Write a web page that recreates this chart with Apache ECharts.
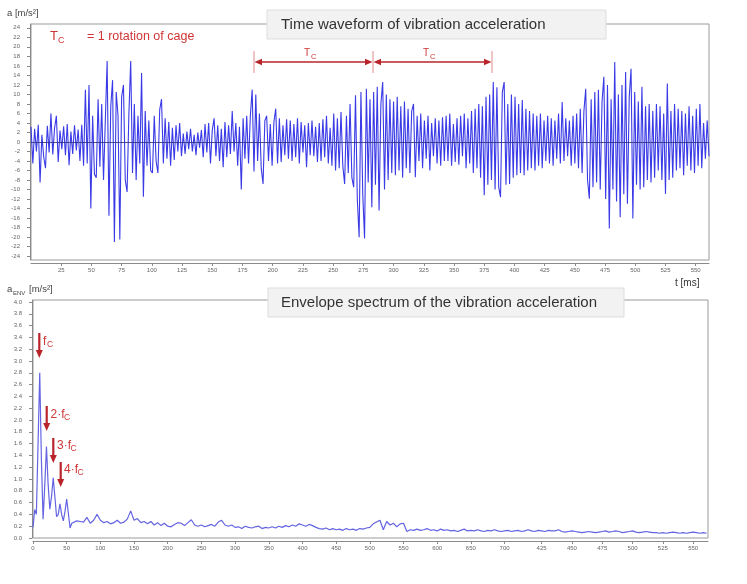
<!DOCTYPE html>
<html>
<head>
<meta charset="utf-8">
<script src="https://cdn.jsdelivr.net/npm/echarts/dist/echarts.min.js"></script>
<style>
html,body{margin:0;padding:0;background:#fff;}
#c{width:747px;height:584px;}
</style>
</head>
<body>
<div id="c"></div>
<script>
// ---------- DATA ----------
// Time waveform of vibration acceleration, one sample every 1.5 ms starting at 0 ms  [m/s²]
const timeStepMs = 1.5;
const accel = [
 3.2, -4.5, 2.8, -2.0, 3.6, -8.5, 1.5, -3.1, -5.5, 3.4,
 -2.2, 6.0, -2.6, 2.9, 5.5, -4.2, 2.4, -1.5, 3.3, -2.8,
 3.8, -4.9, 2.2, -2.5, 3.5, -1.8, 2.6, -4.0, 3.6, -5.0,
 11.0, -4.5, 12.0, -14.0, 5.5, -6.8, -7.5, 9.0, -5.2, 8.0,
 -8.0, 4.5, 17.0, -15.5, 7.5, 13.0, -21.0, 10.5, 5.5, -20.5,
 9.5, 12.0, -8.0, -10.5, 6.0, 17.0, -6.5, 8.0, -8.0, 5.5,
 -4.5, 14.5, -11.5, 6.5, -5.0, 4.5, -6.0, -6.5, 5.5, -4.0,
 -6.5, 6.8, 9.0, -4.5, 5.0, -3.5, 4.2, -5.0, 3.0, -3.8,
 3.5, -2.0, 4.0, -3.0, 1.8, -2.5, 2.2, -1.5, 2.8, -2.0,
 1.5, -2.8, 2.0, -1.2, 2.5, -3.2, 3.8, -2.2, 4.0, -4.5,
 2.5, 5.0, -3.0, 3.5, -4.0, 2.8, -5.3, 4.2, -3.2, 3.5,
 -2.5, 6.5, -2.0, 4.0, -5.0, 3.2, -10.0, 5.0, -3.5, 5.5,
 -4.5, 5.5, 11.0, -6.2, 10.0, -4.0, 6.0, -5.5, -8.8, 4.5,
 5.5, -4.0, 3.8, -5.0, 4.2, 7.0, -4.5, 5.0, -4.2, 3.5,
 -2.8, 4.8, -3.5, 4.5, -4.0, 3.8, -3.2, 5.0, -4.5, 4.2,
 -2.2, 3.5, -5.3, 4.0, -2.8, 4.5, -3.0, 3.2, -4.2, 4.0,
 -4.0, 4.8, -3.2, 5.5, -4.5, 3.0, -5.0, 6.0, -6.0, 5.0,
 -5.5, 6.3, -5.0, -8.8, 5.5, -6.5, 8.0, -7.5, -9.5, 9.8,
 -12.0, -20.0, 10.5, -11.0, -20.3, 11.2, -8.5, 9.0, -13.7, 10.5,
 -9.0, 11.6, -14.4, 8.0, 12.6, -10.0, 10.0, -8.0, 9.0, -6.5,
 8.5, -7.0, 9.5, -6.0, 7.5, -7.5, 8.5, -5.5, 7.0, -6.5,
 6.5, 8.0, -7.4, 5.5, -4.0, 6.0, -5.5, 4.5, -3.5, 5.5,
 -6.0, 4.0, -3.0, 5.0, -4.5, 4.5, -5.0, 5.2, -4.0, 5.5,
 -4.0, 6.0, -5.0, 3.8, -4.2, 5.0, -4.8, 5.5, -3.0, 6.0,
 -5.5, 5.0, -4.5, 6.5, -6.5, 7.0, -5.5, 8.0, -7.5, 7.5,
 -11.2, 9.5, -9.0, 10.0, -8.0, 12.6, -10.0, 11.5, -9.5, -11.6,
 10.5, 12.6, -9.0, 8.0, -8.8, 10.0, -7.5, 9.5, -7.0, 8.0,
 -6.5, 8.8, -7.0, 7.0, -6.0, 6.5, -5.5, 6.0, -6.0, 5.5,
 -5.0, 6.0, -5.5, 4.5, -4.0, 5.5, -4.5, 5.0, -5.0, 4.5,
 -3.5, 6.0, -4.5, 8.4, -4.0, 5.0, -3.0, 4.5, -5.0, 5.5,
 -4.5, 6.0, -5.5, 7.0, -6.5, 6.5, 11.2, -8.0, -11.9, 9.0,
 -9.5, 10.5, -8.5, 11.0, -10.0, 8.5, 13.7, -12.0, 12.0, -18.2,
 9.0, -10.0, 16.8, -12.5, 10.0, -15.8, 12.0, -11.0, 14.7, -13.0,
 9.5, 15.4, -16.1, 10.5, -9.0, 8.5, -10.0, 11.6, -9.5, 7.5,
 -8.0, 8.0, -8.5, 6.5, -7.5, 8.0, -6.0, 7.5, -8.0, 6.0,
 -10.9, 12.3, -8.0, 6.5, -7.5, 8.0, -6.0, 7.0, -5.5, 6.5,
 -7.0, 6.0, -5.0, 7.5, -6.0, 5.5, -6.5, 7.0, -5.0, 8.0,
 -5.5, 4.0, -3.5, 4.5, -3.0
];

// Envelope spectrum: low part (0 .. 57.5, step 2.5) and high part (60 .. 1000, step 5)
const envLowStart = 0, envLowStep = 2.5;
const envLow = [0.18, 0.48, 0.40, 1.60, 2.80, 1.30, 0.32, 0.90, 1.55, 0.90,
                0.49, 0.70, 1.02, 0.70, 0.36, 0.40, 0.58, 0.40, 0.29, 0.45,
                0.66, 0.42, 0.17, 0.25];
const envHighStart = 60, envHighStep = 5;
const envHigh = [
 0.27, 0.29, 0.28, 0.27, 0.35, 0.25, 0.30, 0.40, 0.30, 0.26,
 0.28, 0.24, 0.26, 0.30, 0.25, 0.27, 0.32, 0.46, 0.30, 0.33,
 0.26, 0.28, 0.24, 0.28, 0.22, 0.26, 0.21, 0.25, 0.20, 0.19,
 0.23, 0.26, 0.25, 0.21, 0.26, 0.31, 0.22, 0.20, 0.22, 0.19,
 0.21, 0.23, 0.20, 0.27, 0.30, 0.22, 0.20, 0.22, 0.18, 0.19,
 0.16, 0.20, 0.18, 0.17, 0.19, 0.20, 0.16, 0.18, 0.17, 0.19,
 0.17, 0.20, 0.18, 0.21, 0.19, 0.22, 0.20, 0.24, 0.22, 0.20,
 0.23, 0.21, 0.18, 0.16, 0.15, 0.17, 0.14, 0.16, 0.14, 0.15,
 0.13, 0.16, 0.14, 0.15, 0.13, 0.16, 0.15, 0.17, 0.18, 0.24,
 0.27, 0.30, 0.14, 0.28, 0.22, 0.25, 0.19, 0.24, 0.25, 0.11,
 0.14, 0.13, 0.15, 0.13, 0.14, 0.16, 0.13, 0.14, 0.12, 0.15,
 0.13, 0.14, 0.12, 0.13, 0.11, 0.13, 0.15, 0.12, 0.13, 0.12,
 0.14, 0.12, 0.11, 0.13, 0.12, 0.14, 0.12, 0.11, 0.12, 0.13,
 0.11, 0.12, 0.13, 0.11, 0.12, 0.14, 0.12, 0.11, 0.13, 0.12,
 0.11, 0.13, 0.12, 0.12, 0.14, 0.11, 0.10, 0.11, 0.12, 0.11,
 0.10, 0.09, 0.10, 0.11, 0.10, 0.09, 0.10, 0.11, 0.12, 0.10,
 0.11, 0.12, 0.11, 0.09, 0.10, 0.11, 0.12, 0.10, 0.09, 0.10,
 0.11, 0.10, 0.09, 0.09, 0.08, 0.09, 0.08, 0.09, 0.10, 0.09,
 0.08, 0.09, 0.08, 0.09, 0.10, 0.09, 0.08, 0.09, 0.08
];

// Tick labels
const timeTicks = [25,50,75,100,125,150,175,200,225,250,275,300,325,350,375,400,425,450,475,500,525,550];
const accelTicks = [-24,-22,-20,-18,-16,-14,-12,-10,-8,-6,-4,-2,0,2,4,6,8,10,12,14,16,18,20,22,24];
const envTicks = [0,0.2,0.4,0.6,0.8,1.0,1.2,1.4,1.6,1.8,2.0,2.2,2.4,2.6,2.8,3.0,3.2,3.4,3.6,3.8,4.0];
const freqTickValues = [0,50,100,150,200,250,300,350,400,450,500,550,600,650,700,755,800,845,890,935,980];
const freqTickLabels = ['0','50','100','150','200','250','300','350','400','450','500','550','600','650','700','425','450','475','500','525','550'];

// ---------- BUILD ----------
const accelData = accel.map((v, i) => [i * timeStepMs, v]);
const envData = envLow.map((v, i) => [envLowStart + i * envLowStep, v])
  .concat(envHigh.map((v, i) => [envHighStart + i * envHighStep, v]));

const RED = '#cf3535';
const DARKRED = '#b8242a';
const FONT = 'Liberation Sans, Arial, sans-serif';

function txt(x, y, s, size, color) {
  return {
    type: 'text', z: 100, x: x, y: y,
    style: { text: s, fontSize: size, fill: color, fontFamily: FONT, verticalAlign: 'middle' }
  };
}
function line(x1, y1, x2, y2, color, w) {
  return { type: 'line', z: 100, shape: { x1, y1, x2, y2 }, style: { stroke: color, lineWidth: w } };
}
function tri(points, color) {
  return { type: 'polygon', z: 100, shape: { points }, style: { fill: color } };
}

const graphics = [
  { type: 'rect', z: 90, shape: { x: 267, y: 10, width: 339, height: 29 }, style: { fill: '#f2f2f2', stroke: '#dddddd', lineWidth: 1 } },
  txt(281, 24.5, 'Time waveform of vibration acceleration', 15, '#333'),
  { type: 'rect', z: 90, shape: { x: 268, y: 288, width: 356, height: 29 }, style: { fill: '#f2f2f2', stroke: '#dddddd', lineWidth: 1 } },
  txt(281, 302.5, 'Envelope spectrum of the vibration acceleration', 15, '#333'),
  txt(7, 13.5, 'a [m/s²]', 9.5, '#444'),
  txt(7, 289.5, 'a', 9.5, '#444'),
  txt(13, 293.5, 'ENV', 6, '#444'),
  txt(29, 289.5, '[m/s²]', 9.5, '#444'),
  txt(675, 283, 't [ms]', 10, '#333'),
  txt(50, 36.5, 'T', 13, RED),
  txt(58, 40.5, 'C', 9, RED),
  txt(87, 36.5, '= 1 rotation of cage', 12.5, RED),
  line(254, 51, 254, 73, '#e08a8a', 1),
  line(373, 51, 373, 73, '#e08a8a', 1),
  line(492, 51, 492, 73, '#e08a8a', 1),
  line(258, 62, 369, 62, DARKRED, 1.5),
  line(377, 62, 488, 62, DARKRED, 1.5),
  tri([[254.5, 62], [262, 58.8], [262, 65.2]], DARKRED),
  tri([[372.5, 62], [365, 58.8], [365, 65.2]], DARKRED),
  tri([[373.5, 62], [381, 58.8], [381, 65.2]], DARKRED),
  tri([[491.5, 62], [484, 58.8], [484, 65.2]], DARKRED),
  txt(304, 53.5, 'T', 10, RED),
  txt(311, 56.5, 'C', 7.5, RED),
  txt(423, 53.5, 'T', 10, RED),
  txt(430, 56.5, 'C', 7.5, RED),
  line(39.3, 333, 39.3, 351, DARKRED, 2.2),
  tri([[35.8, 350], [42.8, 350], [39.3, 358]], DARKRED),
  txt(43, 341.5, 'f', 12, RED),
  txt(47, 345, 'C', 8.5, RED),
  line(46.7, 406, 46.7, 424, DARKRED, 2.2),
  tri([[43.2, 423], [50.2, 423], [46.7, 431]], DARKRED),
  txt(50.5, 414.5, '2·f', 12, RED),
  txt(64, 418, 'C', 8.5, RED),
  line(53.3, 438, 53.3, 456, DARKRED, 2.2),
  tri([[49.8, 455], [56.8, 455], [53.3, 463]], DARKRED),
  txt(57, 445.5, '3·f', 12, RED),
  txt(70.5, 449, 'C', 8.5, RED),
  line(60.7, 462, 60.7, 480, DARKRED, 2.2),
  tri([[57.2, 479], [64.2, 479], [60.7, 487]], DARKRED),
  txt(64, 469.5, '4·f', 12, RED),
  txt(77.5, 473, 'C', 8.5, RED)
];

const axisLabelBase = { fontSize: 6, color: '#666', fontFamily: FONT };

const option = {
  animation: false,
  backgroundColor: '#fff',
  grid: [
    { left: 31, top: 24, width: 678, height: 236, show: true, borderColor: '#9a9a9a', borderWidth: 1, backgroundColor: 'transparent' },
    { left: 33, top: 300, width: 675, height: 238, show: true, borderColor: '#9a9a9a', borderWidth: 1, backgroundColor: 'transparent' }
  ],
  xAxis: [
    {
      type: 'value', gridIndex: 0, min: 0, max: 561, offset: 3,
      axisLine: { show: true, onZero: false, lineStyle: { color: '#8a8a8a' } },
      axisTick: { show: true, length: 3, customValues: timeTicks, lineStyle: { color: '#8a8a8a' } },
      axisLabel: Object.assign({ customValues: timeTicks, margin: 4 }, axisLabelBase),
      splitLine: { show: false }
    },
    {
      type: 'value', gridIndex: 1, min: 0, max: 1002, offset: 3,
      axisLine: { show: true, onZero: false, lineStyle: { color: '#8a8a8a' } },
      axisTick: { show: true, length: 3, customValues: freqTickValues, lineStyle: { color: '#8a8a8a' } },
      axisLabel: Object.assign({
        customValues: freqTickValues, margin: 4,
        formatter: function (v) { const i = freqTickValues.indexOf(v); return i >= 0 ? freqTickLabels[i] : ''; }
      }, axisLabelBase),
      splitLine: { show: false }
    }
  ],
  yAxis: [
    {
      type: 'value', gridIndex: 0, min: -24.8, max: 24.8, offset: 1,
      axisLine: { show: true, onZero: false, lineStyle: { color: '#8a8a8a' } },
      axisTick: { show: true, length: 3, customValues: accelTicks, lineStyle: { color: '#8a8a8a' } },
      axisLabel: Object.assign({ customValues: accelTicks, margin: 10 }, axisLabelBase),
      splitLine: { show: false }
    },
    {
      type: 'value', gridIndex: 1, min: 0, max: 4.034, offset: 1,
      axisLine: { show: true, onZero: false, lineStyle: { color: '#8a8a8a' } },
      axisTick: { show: true, length: 3, customValues: envTicks, lineStyle: { color: '#8a8a8a' } },
      axisLabel: Object.assign({ customValues: envTicks, margin: 10, formatter: v => v.toFixed(1) }, axisLabelBase),
      splitLine: { show: false }
    }
  ],
  series: [
    {
      type: 'line', xAxisIndex: 0, yAxisIndex: 0, data: accelData,
      showSymbol: false, symbol: 'none',
      lineStyle: { color: '#3a3ae6', width: 1.1 },
      markLine: {
        silent: true, symbol: 'none', label: { show: false },
        lineStyle: { color: '#2b2b7a', width: 0.8, type: 'solid' },
        data: [{ yAxis: 0 }]
      }
    },
    {
      type: 'line', xAxisIndex: 1, yAxisIndex: 1, data: envData,
      showSymbol: false, symbol: 'none', smooth: false,
      lineStyle: { color: '#6464e2', width: 1.2 }
    }
  ],
  graphic: graphics
};

const chart = echarts.init(document.getElementById('c'), null, { renderer: 'canvas' });
chart.setOption(option);
</script>
</body>
</html>
